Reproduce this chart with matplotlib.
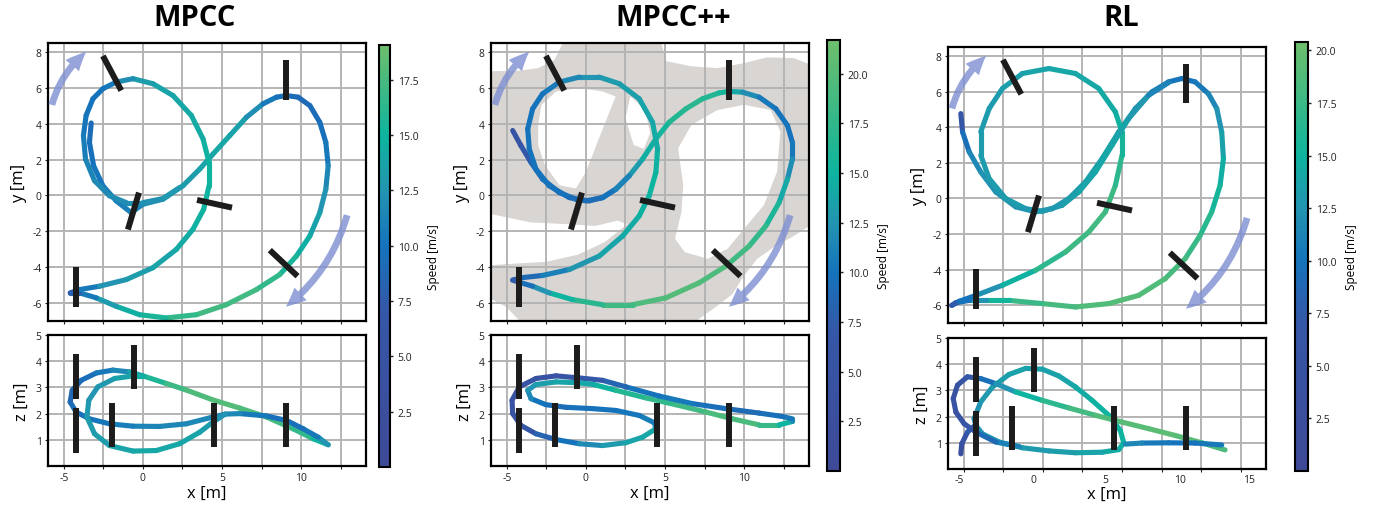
import numpy as np
import matplotlib
matplotlib.use('Agg')
import matplotlib.pyplot as plt
from matplotlib.collections import LineCollection
from matplotlib.colors import LinearSegmentedColormap, Normalize
from matplotlib.patches import Polygon, FancyArrowPatch
from matplotlib.cm import ScalarMappable

plt.rcParams['font.family'] = ['Open Sans', 'DejaVu Sans']
plt.rcParams['axes.unicode_minus'] = False

W, H = 1382, 510

titles = ['MPCC', 'MPCC++', 'RL']
speed_max = [19.07, 21.7, 20.4]
cbar_ticks = [[2.5, 5.0, 7.5, 10.0, 12.5, 15.0, 17.5],
              [2.5, 5.0, 7.5, 10.0, 12.5, 15.0, 17.5, 20.0],
              [2.5, 5.0, 7.5, 10.0, 12.5, 15.0, 17.5, 20.0]]

# gates seen from above: ((x0, y0), (x1, y1))
gates_xy = [((-2.53, 7.78), (-1.37, 5.85)),
            ((9.03, 7.55), (9.03, 5.33)),
            ((-0.25, 0.16), (-0.95, -1.90)),
            ((3.42, -0.25), (5.63, -0.68)),
            ((8.02, -3.05), (9.77, -4.50)),
            ((-4.26, -3.98), (-4.26, -6.22))]
# gates seen from the side: (x, z_low, z_high)
gates_xz = [(-4.26, 2.57, 4.26), (-4.26, 0.50, 2.21), (-0.59, 2.95, 4.61),
            (-1.94, 0.72, 2.41), (4.52, 0.72, 2.41), (9.03, 0.72, 2.41)]

arrows = [((-5.8, 4.9), (-3.45, 8.1)), ((12.95, -0.95), (8.9, -6.3))]

# trajectories (x, y, speed) and (x, z, speed)
mpcc_xy = [
    (-3.27, 4.04, 9), (-3.38, 2.96, 9.5), (-3.12, 1.66, 10), (-2.53, 0.54, 10.5), (-1.69, -0.30, 11),
    (-0.74, -0.96, 11), (0.0, -0.49, 11.5), (1.27, -0.21, 12.5), (2.53, 0.54, 13), (3.59, 1.47, 13.5),
    (4.43, 2.31, 14), (5.49, 3.34, 14), (6.54, 4.36, 13), (7.59, 5.11, 11), (8.44, 5.48, 10),
    (9.07, 5.57, 9.5), (9.81, 5.48, 9), (10.55, 5.01, 9), (11.18, 4.08, 9.5), (11.56, 2.96, 10),
    (11.71, 1.66, 11), (11.56, 0.35, 12), (11.18, -0.96, 13), (10.55, -2.26, 14), (9.70, -3.38, 15),
    (8.65, -4.41, 16), (7.17, -5.25, 17), (5.27, -6.09, 17.5), (3.38, -6.65, 17), (1.48, -6.83, 16),
    (-0.21, -6.65, 15), (-1.69, -6.18, 14), (-2.95, -5.71, 12), (-4.01, -5.43, 9), (-4.60, -5.43, 7),
    (-4.01, -5.25, 9), (-2.74, -5.06, 12), (-1.05, -4.69, 13), (0.63, -4.03, 13.5), (2.11, -3.01, 14),
    (3.16, -1.89, 14.5), (3.84, -0.77, 15), (4.18, 0.54, 15), (4.18, 1.84, 15), (3.80, 3.15, 14.5),
    (3.06, 4.46, 14), (1.90, 5.57, 14), (0.63, 6.23, 13.5), (-0.63, 6.51, 13), (-1.69, 6.32, 11),
    (-2.53, 5.95, 10), (-3.16, 5.39, 10), (-3.59, 4.46, 10), (-3.76, 3.34, 10.5), (-3.63, 2.03, 11),
    (-3.06, 0.82, 11.5), (-2.11, -0.02, 12), (-1.05, -0.40, 12), (0.0, -0.40, 12), (1.27, -0.17, 12.5),
    (2.32, 0.44, 13)]
mpcc_xz_main = [
    (0.0, 3.44, 15), (1.48, 3.15, 16.5), (2.74, 2.90, 17.5), (4.43, 2.52, 18), (6.12, 2.21, 18),
    (7.81, 1.87, 17.5), (9.49, 1.42, 17), (10.76, 1.04, 16), (11.71, 0.81, 14), (11.08, 1.10, 11),
    (10.13, 1.42, 10), (9.07, 1.74, 9.5), (7.81, 1.91, 10), (6.12, 2.0, 11), (5.2, 1.98, 12)]
mpcc_xz_low1 = [
    (5.2, 1.98, 12), (4.3, 1.85, 11.5), (2.74, 1.61, 11.5), (1.05, 1.51, 11.5), (-0.63, 1.52, 11),
    (-2.11, 1.61, 10.5), (-3.38, 1.80, 10), (-4.22, 2.06, 9.5), (-4.60, 2.44, 9), (-4.47, 2.89, 8.5),
    (-3.90, 3.27, 9), (-2.95, 3.55, 10), (-1.90, 3.66, 11), (-0.84, 3.59, 12), (0.0, 3.44, 15)]
mpcc_xz_low2 = [
    (5.2, 1.98, 12), (4.43, 1.68, 13), (3.59, 1.29, 13.5), (2.32, 0.85, 14), (0.84, 0.59, 14),
    (-0.63, 0.57, 14), (-2.11, 0.78, 13.5), (-3.06, 1.23, 13), (-3.54, 1.87, 13), (-3.42, 2.51, 12.5),
    (-2.85, 3.02, 12.5), (-1.79, 3.34, 13), (-0.63, 3.44, 14), (0.0, 3.44, 15)]

mpccpp_xy = [
    (-4.63, 3.62, 5), (-4.11, 2.78, 6), (-3.47, 1.84, 8), (-2.74, 0.91, 9), (-1.68, 0.16, 9.5),
    (-0.63, -0.21, 9.5), (0.21, -0.30, 9), (1.05, -0.12, 9.5), (1.89, 0.35, 10.5), (2.74, 1.10, 12),
    (3.58, 2.03, 14), (4.42, 3.15, 15), (5.26, 4.08, 16), (6.32, 4.83, 17), (7.37, 5.39, 17),
    (8.42, 5.72, 16), (9.05, 5.80, 15), (9.89, 5.76, 13), (10.95, 5.48, 11), (12.0, 4.83, 10),
    (12.74, 3.90, 10), (13.05, 2.96, 10), (13.05, 2.03, 11), (12.74, 0.91, 13), (12.21, -0.40, 15),
    (11.37, -1.70, 17), (10.32, -2.82, 18), (8.84, -3.94, 19), (7.16, -4.87, 20), (5.05, -5.71, 20),
    (2.95, -6.09, 19), (1.05, -6.09, 18), (-0.84, -5.81, 16), (-2.32, -5.43, 14), (-3.37, -5.06, 11),
    (-4.21, -4.84, 8), (-4.63, -4.72, 7), (-4.11, -4.59, 8), (-2.74, -4.46, 10), (-1.05, -4.13, 12),
    (0.84, -3.38, 13.5), (2.32, -2.26, 14), (3.37, -1.14, 14.5), (4.0, -0.02, 15), (4.42, 1.28, 15),
    (4.53, 2.59, 14.5), (4.21, 4.08, 14), (3.37, 5.39, 13.5), (2.11, 6.23, 13), (0.84, 6.60, 13),
    (-0.42, 6.60, 12), (-1.68, 6.32, 11), (-2.74, 5.67, 10), (-3.37, 4.83, 10), (-3.68, 3.71, 10),
    (-3.58, 2.59, 10), (-3.16, 1.47, 10), (-2.32, 0.54, 10), (-1.05, -0.12, 9.5), (0.0, -0.30, 9),
    (1.05, -0.12, 9.5), (1.89, 0.35, 10.5), (2.74, 1.10, 12)]
mpccpp_xz = [
    (0.42, 3.12, 14), (1.89, 2.89, 16), (3.79, 2.60, 17), (5.68, 2.34, 18), (7.58, 2.06, 19),
    (9.26, 1.80, 19.5), (10.95, 1.57, 19), (12.21, 1.57, 17), (13.05, 1.70, 13), (13.05, 1.80, 11),
    (12.42, 1.89, 10), (10.95, 2.02, 9), (8.84, 2.19, 9), (6.74, 2.38, 10), (4.63, 2.67, 11),
    (2.53, 3.02, 9), (1.05, 3.27, 8), (-0.42, 3.36, 6), (-1.89, 3.44, 5), (-3.16, 3.34, 5),
    (-4.21, 3.02, 4.5), (-4.67, 2.51, 4.5), (-4.63, 2.0, 5), (-4.11, 1.55, 6), (-3.16, 1.23, 7.5),
    (-1.89, 1.01, 9), (-0.42, 0.85, 11), (1.05, 0.78, 12.5), (2.53, 0.89, 13.5), (3.58, 1.10, 14),
    (4.42, 1.42, 14), (4.32, 1.65, 11), (3.37, 1.93, 10.5), (1.89, 2.12, 10), (0.42, 2.19, 10),
    (-1.26, 2.24, 9.5), (-2.53, 2.34, 9), (-3.47, 2.57, 11), (-3.68, 2.89, 12), (-3.16, 3.11, 13),
    (-1.89, 3.21, 13.5), (-0.63, 3.18, 14), (0.42, 3.12, 14)]

rl_xy = [
    (-5.19, 4.76, 5), (-5.08, 3.73, 8), (-4.66, 2.61, 11), (-3.93, 1.48, 12), (-2.98, 0.36, 12.5),
    (-1.72, -0.48, 12.5), (-0.46, -0.76, 12.5), (0.59, -0.58, 12.5), (1.64, -0.01, 13), (2.69, 0.92, 13),
    (3.74, 2.23, 13.5), (4.79, 3.73, 13.5), (5.84, 5.04, 12.5), (6.89, 5.98, 11.5), (7.94, 6.54, 10.5),
    (8.78, 6.73, 10), (9.62, 6.54, 10), (10.46, 5.88, 11), (10.99, 5.04, 12), (11.30, 3.73, 13),
    (11.41, 2.23, 14), (11.20, 0.73, 15), (10.67, -0.76, 16), (9.94, -2.07, 17), (8.99, -3.39, 18),
    (7.73, -4.51, 18.5), (6.05, -5.45, 19), (4.16, -5.91, 19), (2.06, -6.10, 18.5), (-0.04, -5.91, 18),
    (-2.14, -5.73, 17), (-3.61, -5.73, 14), (-4.66, -5.73, 11), (-5.50, -5.86, 8), (-5.76, -6.01, 6),
    (-5.29, -5.78, 9), (-4.24, -5.45, 11), (-2.56, -4.88, 13.5), (-0.46, -4.04, 16), (1.43, -3.01, 17.5),
    (2.90, -1.89, 18), (3.95, -0.76, 18), (4.58, 0.73, 17.5), (5.0, 2.42, 16), (5.0, 3.73, 15),
    (4.58, 4.85, 14.5), (3.53, 6.17, 14), (2.06, 7.01, 14), (0.38, 7.29, 14), (-1.30, 7.01, 13.5),
    (-2.56, 6.17, 13), (-3.40, 5.04, 13), (-3.93, 3.73, 13), (-3.93, 2.42, 13), (-3.40, 1.11, 13),
    (-2.35, -0.01, 13), (-1.09, -0.58, 13), (-0.04, -0.73, 12.5), (1.22, -0.39, 13), (2.27, 0.36, 13.5),
    (3.32, 1.48, 14), (4.37, 2.98, 14), (5.42, 4.48, 13.5), (6.68, 5.79, 12), (7.94, 6.50, 10.5)]
rl_xz_start = [(-5.19, 0.58, 3), (-5.13, 0.96, 4), (-4.77, 1.41, 6), (-4.24, 1.69, 9)]
rl_xz_loop = [
    (-4.35, 1.92, 12), (-3.93, 2.56, 12.5), (-3.19, 3.13, 13), (-2.14, 3.61, 13.5), (-1.09, 3.84, 13.5),
    (-0.04, 3.81, 13.5), (1.01, 3.55, 13.5), (2.06, 3.13, 14), (3.11, 2.62, 14.5), (4.16, 2.05, 15),
    (4.89, 1.47, 15), (5.11, 1.0, 15), (4.79, 0.74, 14.5), (3.74, 0.64, 14), (2.06, 0.62, 13.5),
    (0.38, 0.69, 13), (-1.30, 0.81, 13), (-2.77, 1.03, 13), (-3.82, 1.34, 12.5), (-4.24, 1.66, 12.5),
    (-4.35, 1.92, 12)]
rl_xz_long = [
    (-1.51, 0.86, 12), (-2.98, 1.03, 10), (-4.24, 1.41, 8), (-4.98, 1.73, 6), (-5.50, 2.17, 5),
    (-5.67, 2.69, 5), (-5.40, 3.20, 5), (-4.77, 3.52, 6), (-3.93, 3.45, 8), (-2.98, 3.26, 11),
    (-1.72, 2.94, 14), (-0.04, 2.62, 16), (1.64, 2.33, 17.5), (3.32, 2.05, 18.5), (5.0, 1.79, 19),
    (6.68, 1.54, 19.5), (8.36, 1.28, 19.5), (10.04, 1.0, 19), (11.51, 0.73, 18)]
rl_xz_flat = [(11.30, 0.92, 11), (9.62, 0.99, 10), (7.94, 1.0, 10), (6.26, 0.99, 11), (5.21, 0.95, 12)]

# shaded region behind MPCC++ (outer outline and uncovered pockets)
shade_outer = [
    (-6.2, 6.92), (-4.17, 6.96), (-3.02, 7.10), (-1.98, 7.57), (-1.35, 8.7), (4.69, 8.7), (5.10, 7.48),
    (6.67, 7.20), (8.33, 7.10), (10.0, 7.38), (11.46, 7.70), (13.13, 7.66), (14.2, 7.29), (14.2, -1.66),
    (13.02, -2.32), (11.88, -2.88), (10.83, -3.53), (10.0, -4.46), (9.27, -5.49), (8.33, -6.14),
    (7.29, -6.79), (6.67, -7.2), (-3.96, -7.2), (-5.0, -6.24), (-6.2, -5.68)]
shade_holes = [
    [(-3.02, 3.93), (-2.81, 5.05), (-1.88, 5.80), (-0.42, 5.99), (1.04, 5.80), (1.88, 5.52), (0.83, 3.19),
     (0.0, 1.32), (-0.63, 0.39), (-1.67, 0.57), (-2.60, 1.69), (-3.02, 2.81)],
    [(2.81, 5.52), (3.75, 4.77), (4.06, 3.47), (3.65, 2.60), (3.02, 2.81), (2.50, 4.31)],
    [(6.67, 3.93), (8.33, 4.77), (10.0, 5.05), (11.67, 4.77), (12.29, 3.56), (12.08, 1.32), (11.25, -0.54),
     (10.0, -1.85), (8.96, -2.97), (7.71, -3.53), (6.25, -3.16), (5.63, -2.41), (6.04, -0.92),
     (6.15, 0.57), (5.83, 2.63)],
    [(-6.2, -1.0), (-3.5, -1.5), (-1.2, -1.6), (0.6, -1.7), (2.0, -1.4), (2.6, -1.6), (1.2, -2.6),
     (-0.5, -3.3), (-2.5, -3.7), (-4.5, -3.8), (-6.2, -3.9)]]

x_grid = [-5, -2.5, 0, 2.5, 5, 7.5, 10, 12.5]
x_labels = ['-5', '', '0', '', '5', '', '10', '']
rl_label_pos = [-5.3, -0.57, 3.95, 8.68, 13.0]
rl_labels = ['-5', '0', '5', '10', '15']


def box(l, t, r, b):
    return [l / W, 1 - b / H, (r - l) / W, (b - t) / H]


def make_cmap(vmax):
    stops = [(0, '#3e4a98'), (7.0, '#3557a7'), (10.0, '#1573bc'), (12.5, '#2394b1'),
             (15.0, '#0db49f'), (vmax, '#6dbe6b')]
    return LinearSegmentedColormap.from_list('speed', [(v / vmax, c) for v, c in stops])


def draw_track(ax, pts, cmap, norm, lw=3.7):
    pts = np.asarray(pts, float)
    segs = np.stack([pts[:-1, :2], pts[1:, :2]], axis=1)
    lc = LineCollection(segs, cmap=cmap, norm=norm, linewidths=lw,
                        capstyle='round', joinstyle='round', zorder=2)
    lc.set_array((pts[:-1, 2] + pts[1:, 2]) / 2)
    ax.add_collection(lc)


def style_axes(ax):
    for s in ax.spines.values():
        s.set_linewidth(1.6)
        s.set_color('black')
    ax.grid(True, color='#b4b4b4', linewidth=1.4)
    ax.tick_params(labelsize=7.5, length=2.5, width=0.8, colors='#222222', pad=2)


fig = plt.figure(figsize=(W / 100, H / 100), dpi=100)

top_boxes = [(48, 44, 366, 322), (491, 44, 809, 322), (948, 48, 1266, 324)]
bot_boxes = [(48, 336, 366, 467), (491, 336, 809, 467), (948, 339, 1266, 470)]
cb_boxes = [(379, 46, 390, 468), (827, 41, 840, 472), (1295, 43, 1308, 472)]
title_pos = [(195, 19), (673, 19), (1121, 19)]
xy_tracks = [[mpcc_xy], [mpccpp_xy], [rl_xy]]
xz_tracks = [[mpcc_xz_main, mpcc_xz_low1, mpcc_xz_low2], [mpccpp_xz],
             [rl_xz_start, rl_xz_loop, rl_xz_long, rl_xz_flat]]

for i in range(3):
    cmap = make_cmap(speed_max[i])
    norm = Normalize(0, speed_max[i])

    ax = fig.add_axes(box(*top_boxes[i]))
    style_axes(ax)
    ax.set_xlim(-6, 14.1)
    ax.set_ylim(-7, 8.5)
    ax.set_xticks(x_grid)
    ax.set_yticks(range(-6, 9, 2))
    ax.tick_params(labelbottom=False)
    ax.set_ylabel('y [m]', fontsize=12, labelpad=4)
    if i == 1:
        ax.add_patch(Polygon(shade_outer, closed=True, facecolor='#d8d5d3', edgecolor='none', zorder=1))
        for hole in shade_holes:
            ax.add_patch(Polygon(hole, closed=True, facecolor='white', edgecolor='none', zorder=1))
    for tr in xy_tracks[i]:
        draw_track(ax, tr, cmap, norm)
    for (a, b) in gates_xy:
        ax.plot([a[0], b[0]], [a[1], b[1]], color='#1c1c1c', lw=4.3, solid_capstyle='butt', zorder=3)
    for (a, b) in arrows:
        ax.add_patch(FancyArrowPatch(a, b, connectionstyle='arc3,rad=-0.17',
                                     arrowstyle='simple,head_width=0.9,head_length=1.0,tail_width=0.35',
                                     mutation_scale=14, color='#7d8fd2', alpha=0.8, lw=0, zorder=4))

    bx = fig.add_axes(box(*bot_boxes[i]))
    style_axes(bx)
    bx.set_xlim(-6, 14.1)
    bx.set_ylim(0, 5)
    bx.set_yticks([1, 2, 3, 4, 5])
    if i == 2:
        bx.set_xticks(x_grid, labels=[''] * len(x_grid))
        bx.set_xticks(rl_label_pos, labels=rl_labels, minor=True)
        bx.tick_params(which='minor', length=0, labelsize=7.5, colors='#222222')
    else:
        bx.set_xticks(x_grid, labels=x_labels)
    bx.set_xlabel('x [m]', fontsize=12, labelpad=1)
    bx.set_ylabel('z [m]', fontsize=12, labelpad=4)
    for tr in xz_tracks[i]:
        draw_track(bx, tr, cmap, norm)
    for (gx, z0, z1) in gates_xz:
        bx.plot([gx, gx], [z0, z1], color='#1c1c1c', lw=4.3, solid_capstyle='butt', zorder=3)

    cax = fig.add_axes(box(*cb_boxes[i]))
    cb = fig.colorbar(ScalarMappable(norm=norm, cmap=cmap), cax=cax, ticks=cbar_ticks[i])
    cb.outline.set_linewidth(1.5)
    cb.ax.tick_params(labelsize=7.5, length=2, width=1, colors='#222222')
    cb.set_label('Speed [m/s]', fontsize=8.5, labelpad=6)

    fig.text(title_pos[i][0] / W, 1 - title_pos[i][1] / H, titles[i], fontsize=21,
             fontweight='bold', ha='center', va='center')

fig.savefig('out.png', dpi=100)
